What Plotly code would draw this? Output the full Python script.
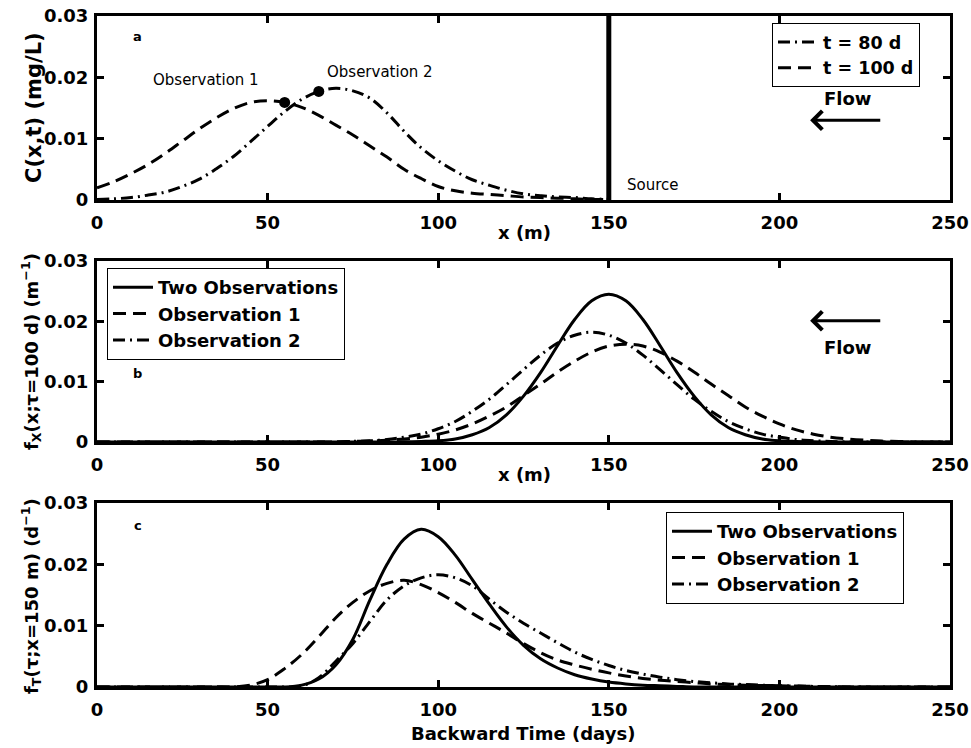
import plotly.graph_objects as go

# ---------------- data ----------------
x_a = list(range(0, 155, 5))
c_t80 = [0.0001, 0.0002, 0.0004, 0.0008, 0.0013, 0.0022, 0.0034, 0.0051, 0.0071, 0.0095,
         0.0120, 0.0144, 0.0164, 0.0177, 0.0182, 0.0178, 0.0166, 0.0142, 0.0112, 0.0085,
         0.0064, 0.0047, 0.0033, 0.0024, 0.0016, 0.0010, 0.0007, 0.0005, 0.0004, 0.0002, 0.0001]
c_t100 = [0.0020, 0.0030, 0.0043, 0.0058, 0.0076, 0.0096, 0.0116, 0.0134, 0.0149, 0.0159,
          0.0162, 0.0159, 0.0151, 0.0138, 0.0122, 0.0106, 0.0088, 0.0070, 0.0050, 0.0035,
          0.0022, 0.0015, 0.0011, 0.0009, 0.0007, 0.0005, 0.0004, 0.0003, 0.0002, 0.0001, 0.0001]
obs_x = [55, 65]
obs_c = [0.0159, 0.0177]
source_x = [150, 150]
source_y = [0, 0.03]

x_b = list(range(0, 255, 5))
fx_two = [0]*18 + [0.00003, 0.0001, 0.0002, 0.0005, 0.0012, 0.0024, 0.0045, 0.0076, 0.0115,
                   0.0160, 0.0203, 0.0234, 0.0245, 0.0234, 0.0203, 0.0160, 0.0115, 0.0076,
                   0.0045, 0.0024, 0.0012, 0.0005, 0.0002, 0.0001, 0.00003] + [0]*8
fx_obs1 = [0]*15 + [0.0001, 0.00015, 0.0003, 0.0005, 0.0008, 0.0013, 0.0020, 0.0030, 0.0043,
                    0.0058, 0.0077, 0.0096, 0.0116, 0.0134, 0.0149, 0.0159, 0.0162, 0.0159,
                    0.0149, 0.0134, 0.0116, 0.0096, 0.0077, 0.0058, 0.0043, 0.0030, 0.0020,
                    0.0013, 0.0008, 0.0005, 0.0003, 0.00015, 0.0001] + [0]*3
fx_obs2 = [0]*15 + [0.0001, 0.0002, 0.0004, 0.0008, 0.0013, 0.0022, 0.0034, 0.0051, 0.0071,
                    0.0095, 0.0120, 0.0144, 0.0164, 0.0177, 0.0182, 0.0177, 0.0164, 0.0144,
                    0.0120, 0.0095, 0.0071, 0.0051, 0.0034, 0.0022, 0.0013, 0.0008, 0.0004,
                    0.0002, 0.0001] + [0]*7

t_c = list(range(0, 255, 5))
ft_two = [0]*12 + [0.0003, 0.0013, 0.0036, 0.0078, 0.0142, 0.0200, 0.0241, 0.0257, 0.0245,
                   0.0215, 0.0175, 0.0135, 0.0098, 0.0068, 0.0046, 0.0031, 0.0020, 0.0013,
                   0.0008, 0.0005, 0.0003, 0.0002, 0.0001] + [0]*16
ft_obs1 = [0]*9 + [0.0003, 0.0012, 0.0030, 0.0053, 0.0082, 0.0113, 0.0138, 0.0157, 0.0169,
                   0.0174, 0.0167, 0.0154, 0.0138, 0.0120, 0.0104, 0.0088, 0.0071, 0.0056,
                   0.0044, 0.0036, 0.0029, 0.0023, 0.0018, 0.0014, 0.0011, 0.0009, 0.0007,
                   0.0005, 0.0004, 0.0003, 0.00025, 0.0002, 0.00015, 0.0001, 0.00005] + [0]*8
ft_obs2 = [0]*12 + [0.0002, 0.0015, 0.0042, 0.0071, 0.0107, 0.0142, 0.0165, 0.0178, 0.0183,
                    0.0178, 0.0165, 0.0143, 0.0122, 0.0104, 0.0088, 0.0072, 0.0057, 0.0045,
                    0.0035, 0.0027, 0.0021, 0.0016, 0.0012, 0.0009, 0.0007, 0.0005, 0.0004,
                    0.0003, 0.0002, 0.00015, 0.0001, 0.00005] + [0]*7

x_ticks = [0, 50, 100, 150, 200, 250]
y_ticks = [0, 0.01, 0.02, 0.03]
y_ticktext = ["0", "0.01", "0.02", "0.03"]

# ---------------- styles ----------------
FONT = "DejaVu Sans, Liberation Sans, Arial, sans-serif"
DASH = "13px,7px"
DASHDOT = "12px,5px,2px,5px"
LW = 3
SMOOTH = 1.0

fig = go.Figure()

# panel a
fig.add_trace(go.Scatter(x=x_a, y=c_t80, mode="lines", name="t = 80 d",
                         line=dict(color="black", width=LW, dash=DASHDOT, shape="spline", smoothing=SMOOTH),
                         xaxis="x", yaxis="y", legend="legend"))
fig.add_trace(go.Scatter(x=x_a, y=c_t100, mode="lines", name="t = 100 d",
                         line=dict(color="black", width=LW, dash=DASH, shape="spline", smoothing=SMOOTH),
                         xaxis="x", yaxis="y", legend="legend"))
fig.add_trace(go.Scatter(x=obs_x, y=obs_c, mode="markers", showlegend=False,
                         marker=dict(color="black", size=11), xaxis="x", yaxis="y"))
fig.add_trace(go.Scatter(x=source_x, y=source_y, mode="lines", showlegend=False,
                         line=dict(color="black", width=5), xaxis="x", yaxis="y"))

# panel b
for ys, nm, dsh in [(fx_two, "Two Observations", "solid"),
                    (fx_obs1, "Observation 1", DASH),
                    (fx_obs2, "Observation 2", DASHDOT)]:
    fig.add_trace(go.Scatter(x=x_b, y=ys, mode="lines", name=nm,
                             line=dict(color="black", width=LW, dash=dsh, shape="spline", smoothing=SMOOTH),
                             xaxis="x2", yaxis="y2", legend="legend2"))

# panel c
for ys, nm, dsh in [(ft_two, "Two Observations", "solid"),
                    (ft_obs1, "Observation 1", DASH),
                    (ft_obs2, "Observation 2", DASHDOT)]:
    fig.add_trace(go.Scatter(x=t_c, y=ys, mode="lines", name=nm,
                             line=dict(color="black", width=LW, dash=dsh, shape="spline", smoothing=SMOOTH),
                             xaxis="x3", yaxis="y3", legend="legend3"))

W, H = 971, 748
xdom = [97 / W, 950 / W]
doms = {"a": [1 - 200 / H, 1 - 16 / H], "b": [1 - 442 / H, 1 - 261 / H], "c": [1 - 687 / H, 1 - 503 / H]}

tickfont = dict(family=FONT, size=18, color="black", weight="bold")

def xax(anchor, dom):
    return dict(domain=xdom, anchor=anchor, range=[0, 250], tickvals=x_ticks,
                showline=True, linecolor="black", linewidth=3, mirror="ticks",
                ticks="inside", ticklen=7, tickwidth=3, tickcolor="black", automargin=False,
                showgrid=False, zeroline=False, tickfont=tickfont, ticklabelstandoff=4)

def yax(anchor, dom):
    return dict(domain=dom, anchor=anchor, range=[0, 0.03], tickvals=y_ticks, ticktext=y_ticktext,
                showline=True, linecolor="black", linewidth=3, mirror="ticks",
                ticks="inside", ticklen=7, tickwidth=3, tickcolor="black", automargin=False,
                showgrid=False, zeroline=False, tickfont=tickfont, ticklabelstandoff=2)

def legfont(sz):
    return dict(family=FONT, size=sz, color="black", weight="bold")

legcommon = dict(bgcolor="white", bordercolor="black", borderwidth=1,
                 xanchor="left", yanchor="top", tracegroupgap=0, itemwidth=40)

annfont = dict(family=FONT, size=15, color="black")
boldfont = dict(family=FONT, size=18, color="black", weight="bold")
flowfont = dict(family=FONT, size=18, color="black", weight="bold")
letterfont = dict(family=FONT, size=13, color="black", weight="bold")

def ptext(xp, yp, text, font, angle=0):
    return dict(x=xp / W, y=1 - yp / H, xref="paper", yref="paper", text=text, showarrow=False,
                xanchor="center", yanchor="middle", textangle=angle, font=font)

annotations = [
    # panel labels
    dict(x=12, y=0.0266, xref="x", yref="y", text="a", showarrow=False, font=letterfont),
    dict(x=12, y=0.0114, xref="x2", yref="y2", text="b", showarrow=False, font=letterfont),
    dict(x=12, y=0.0264, xref="x3", yref="y3", text="c", showarrow=False, font=letterfont),
    # observation labels
    dict(x=32, y=0.0196, xref="x", yref="y", text="Observation 1", showarrow=False, font=annfont),
    dict(x=83, y=0.0209, xref="x", yref="y", text="Observation 2", showarrow=False, font=annfont),
    dict(x=163, y=0.0024, xref="x", yref="y", text="Source", showarrow=False, font=annfont),
    # flow arrows
    dict(x=209, y=0.0130, ax=230, ay=0.0130, xref="x", yref="y", axref="x", ayref="y",
         text="", showarrow=True, arrowhead=4, arrowwidth=3, arrowsize=1.2, arrowcolor="black"),
    dict(x=220, y=0.0165, xref="x", yref="y", text="Flow", showarrow=False, font=flowfont),
    dict(x=209, y=0.0201, ax=230, ay=0.0201, xref="x2", yref="y2", axref="x2", ayref="y2",
         text="", showarrow=True, arrowhead=4, arrowwidth=3, arrowsize=1.2, arrowcolor="black"),
    dict(x=220, y=0.0157, xref="x2", yref="y2", text="Flow", showarrow=False, font=flowfont),
    # x titles
    ptext(524, 232, "x (m)", boldfont),
    ptext(524, 474, "x (m)", boldfont),
    ptext(523, 733, "Backward Time (days)", boldfont),
    # y titles
    ptext(34, 108, "C(x,t) (mg/L)", dict(family=FONT, size=21, color="black", weight="bold"), -90),
    ptext(31, 352, "f<sub>X</sub>(x;τ=100 d) (m<sup>−1</sup>)", boldfont, -90),
    ptext(31, 596, "f<sub>T</sub>(τ;x=150 m) (d<sup>−1</sup>)", boldfont, -90),
]

fig.update_layout(
    width=W, height=H, margin=dict(l=0, r=0, t=0, b=0, autoexpand=False),
    paper_bgcolor="white", plot_bgcolor="white",
    font=dict(family=FONT, color="black"),
    xaxis=xax("y", doms["a"]), yaxis=yax("x", doms["a"]),
    xaxis2=xax("y2", doms["b"]), yaxis2=yax("x2", doms["b"]),
    xaxis3=xax("y3", doms["c"]), yaxis3=yax("x3", doms["c"]),
    legend=dict(x=772 / W, y=1 - 23 / H, font=legfont(17.5), **legcommon),
    legend2=dict(x=107 / W, y=1 - 268 / H, font=legfont(18), **legcommon),
    legend3=dict(x=666 / W, y=1 - 512 / H, font=legfont(18), **legcommon),
    annotations=annotations,
    showlegend=True,
)

fig.write_html("out.html", config={"displayModeBar": False},
               post_script="document.body.style.margin='0';document.body.style.padding='0';")
